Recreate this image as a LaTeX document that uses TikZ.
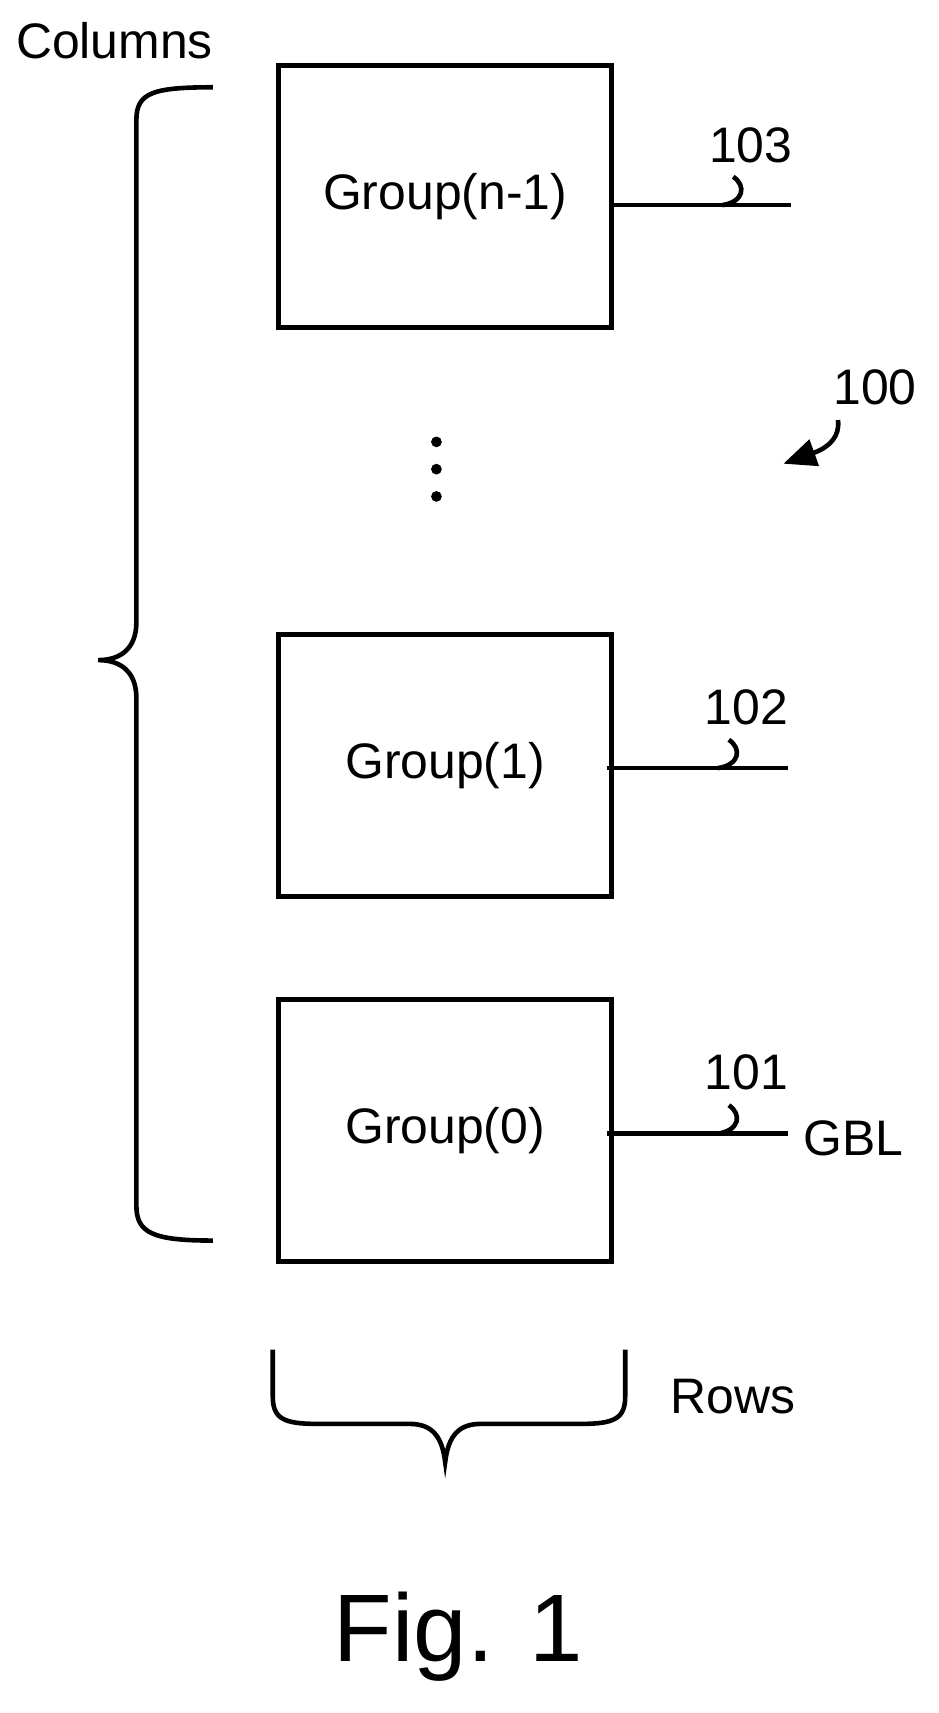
\documentclass[tikz,border=0pt]{standalone}
\usepackage{fontspec}
\setmainfont{Liberation Sans}
\usetikzlibrary{positioning,arrows.meta}
\begin{document}
\begin{tikzpicture}[x=0.01cm,y=-0.01cm,line width=1.2pt,
                    group node/.style={draw,line width=1.3pt,minimum width=3.05cm,minimum height=2.4cm,font=\fontsize{13}{15}\selectfont},
                    label node/.style={font=\fontsize{13}{15}\selectfont},
                    hook/.style={line width=1.2pt}
                   ]
  \useasboundingbox (0,0) rectangle (860,1570);
  \node[group node] (gn) at (408,180) {Group(n-1)};
  \node[group node] (g1) at (408,702) {Group(1)};
  \node[group node] (g0) at (408,1036) {Group(0)};
  \node[label node] (cols) at (105,37) {Columns};
  \node[label node] (rows) at (672,1280) {Rows};
  \node[label node] (gbl) at (782,1043) {GBL};
  \node[label node] (l103) at (688,133) {103};
  \node[label node] (l102) at (684,648) {102};
  \node[label node] (l101) at (684,983) {101};
  \node[label node] (l100) at (802,355) {100};
  \node[font=\fontsize{25}{30}\selectfont] (fig) at (420,1500) {Fig. 1};
  \coordinate (e103) at (725,188);
  \coordinate (e102) at (722,704);
  \coordinate (e101) at (722,1039);
  % lines to the right
  \draw (gn.east |- e103) -- (e103);
  \draw ([xshift=-0.07cm]g1.east |- e102) -- (e102);
  \draw ([xshift=-0.07cm]g0.east |- e101) -- (e101);
  \foreach \x/\y in {672/188,668/704,668/1039}
    \draw[hook] (\x-10,\y) .. controls (\x+10,\y-3) and (\x+12,\y-18) .. (\x,\y-26);
  % dots
  \foreach \y in {405,430,455}
    \fill (400,\y) circle (1.4pt);
  % 100 arrow
  \draw[-{Triangle[length=0.3cm,width=0.25cm]}] (768,385) .. controls (770,400) and (760,410) .. (718,425);
  % braces
  \draw (195,80) .. controls (140,80) and (125,85) .. (125,110) -- (125,570)
        .. controls (125,595) and (110,605) .. (90,605)
        .. controls (110,605) and (125,615) .. (125,640) -- (125,1105)
        .. controls (125,1130) and (140,1137) .. (195,1137);
  \draw (250,1237) -- (250,1280) .. controls (250,1300) and (260,1305) .. (290,1305) -- (375,1305)
        .. controls (395,1305) and (405,1315) .. (408,1340)
        .. controls (411,1315) and (421,1305) .. (441,1305) -- (533,1305)
        .. controls (563,1305) and (573,1300) .. (573,1280) -- (573,1237);
\end{tikzpicture}
\end{document}
